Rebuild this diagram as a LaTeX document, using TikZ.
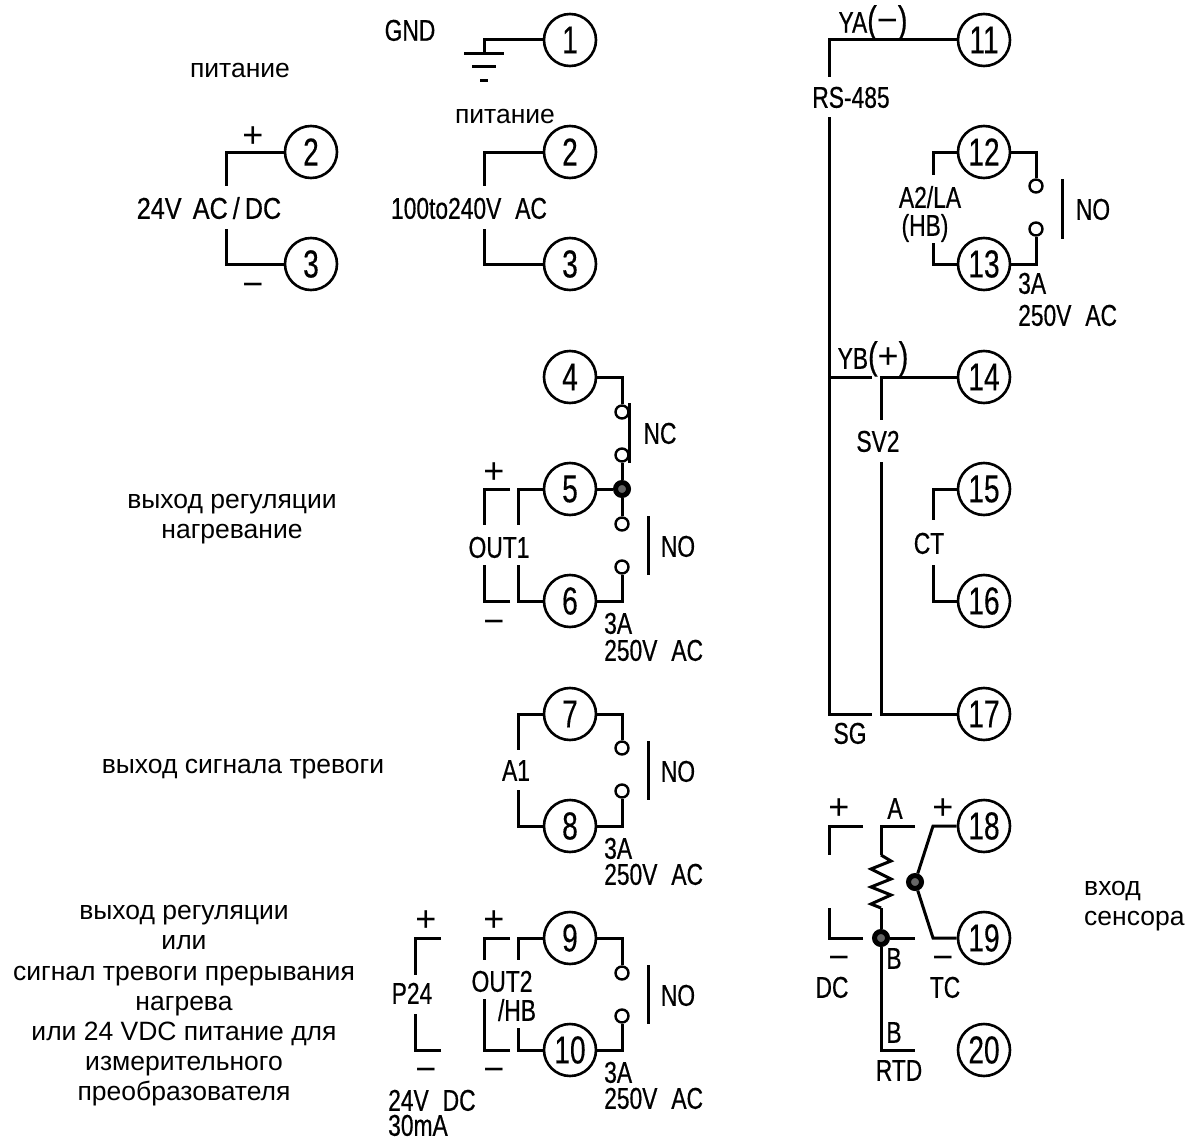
\documentclass[tikz,border=0pt]{standalone}
\usepackage{fontspec}
\setmainfont{Liberation Sans}
\newfontfamily\cadfont[FakeStretch=0.76,WordSpace=2.2,FakeBold=0.5]{Liberation Sans}
\newfontfamily\cadwide[FakeStretch=0.84,WordSpace=1.6,FakeBold=0.5]{Liberation Sans}
\newfontfamily\numfont[FakeStretch=0.72,FakeBold=0.3]{Liberation Sans}
\newcommand{\bigsign}[1]{{\normalfont\fontsize{36}{36}\selectfont #1}}
\newcommand{\bigparen}[1]{{\fontsize{38}{38}\selectfont #1}}
\tikzset{
    wire/.style={line width=3pt,line join=miter},
    term/.style={circle,draw,line width=2.6pt,minimum size=52pt,inner sep=0pt,fill=white,font=\numfont\fontsize{39}{39}\selectfont},
    cont/.style={circle,draw,line width=2.4pt,minimum size=13pt,inner sep=0pt,fill=white},
    junc/.style={circle,draw,line width=5pt,minimum size=13pt,inner sep=0pt,fill=black!60},
    cad/.style={inner sep=0pt,font=\cadfont\fontsize{30}{30}\selectfont,text height=21.5pt,text depth=0pt},
    cadw/.style={cad,font=\cadwide\fontsize{30}{30}\selectfont},
    sign/.style={inner sep=0pt,font=\fontsize{36}{36}\selectfont,text height=24pt,text depth=0pt},
    rus/.style={inner sep=0pt,align=center,font=\fontsize{26.5}{30.2}\selectfont}
}
\begin{document}
\begin{tikzpicture}[x=1pt,y=-1pt]
    \useasboundingbox (0,0) rectangle (1187,1140);
    \fill[white] (0,0) rectangle (1187,1140);
    % left column terminals
    \node[term] (t1) at (570,40){1};
    \node[term] (t2a) at (311,152){2};
    \node[term] (t3a) at (311,264){3};
    \node[term] (t2b) at (570,152){2};
    \node[term] (t3b) at (570,264){3};
    \node[term] (t4) at (570,377){4};
    \node[term] (t5) at (570,489){5};
    \node[term] (t6) at (570,601){6};
    \node[term] (t7) at (570,714){7};
    \node[term] (t8) at (570,826){8};
    \node[term] (t9) at (570,938){9};
    \node[term] (t10) at (570,1050){10};
    % right column terminals
    \node[term] (t11) at (984,40){11};
    \node[term] (t12) at (984,152){12};
    \node[term] (t13) at (984,264){13};
    \node[term] (t14) at (984,377){14};
    \node[term] (t15) at (984,489){15};
    \node[term] (t16) at (984,601){16};
    \node[term] (t17) at (984,714){17};
    \node[term] (t18) at (984,826){18};
    \node[term] (t19) at (984,938){19};
    \node[term] (t20) at (984,1050){20};
    % contacts and junctions
    \node[cont] (k4) at (622,412){};
    \node[cont] (k5a) at (622,455){};
    \node[cont] (k5b) at (622,524){};
    \node[cont] (k6) at (622,567){};
    \node[cont] (k7) at (622,748){};
    \node[cont] (k8) at (622,791){};
    \node[cont] (k9) at (622,973){};
    \node[cont] (k10) at (622,1016){};
    \node[cont] (k12) at (1036,186){};
    \node[cont] (k13) at (1036,229){};
    \node[junc] (j5) at (622,489){};
    \node[junc] (jtc) at (915,882){};
    \node[junc] (jrtd) at (881,938){};
    % wire ends
    \coordinate (gnd) at (484,54);
    \coordinate (ga1) at (464,54);
    \coordinate (ga2) at (504,54);
    \coordinate (gb1) at (472,67);
    \coordinate (gb2) at (496,67);
    \coordinate (gc1) at (480,81);
    \coordinate (gc2) at (488,81);
    \coordinate (w2a) at (226,186);
    \coordinate (w3a) at (226,229);
    \coordinate (w2b) at (484,186);
    \coordinate (w3b) at (484,229);
    \coordinate (w5) at (518,525);
    \coordinate (w6) at (518,565);
    \coordinate (o5a) at (510,489);
    \coordinate (o5b) at (484,525);
    \coordinate (o6a) at (510,601);
    \coordinate (o6b) at (484,565);
    \coordinate (w7) at (518,750);
    \coordinate (w8) at (518,790);
    \coordinate (w9) at (518,960);
    \coordinate (w10) at (518,1028);
    \coordinate (o9a) at (510,938);
    \coordinate (o9b) at (484,960);
    \coordinate (o10a) at (510,1050);
    \coordinate (o10b) at (484,999);
    \coordinate (p9a) at (441,938);
    \coordinate (p9b) at (415,975);
    \coordinate (p10a) at (441,1050);
    \coordinate (p10b) at (415,1014);
    \coordinate (w11) at (829,77);
    \coordinate (w11b) at (829,117);
    \coordinate (sg) at (872,714);
    \coordinate (sgc) at (829,714);
    \coordinate (yb) at (872,377);
    \coordinate (ybc) at (829,377);
    \coordinate (w14) at (881,420);
    \coordinate (w17) at (881,462);
    \coordinate (w12) at (933,175);
    \coordinate (w13) at (933,243);
    \coordinate (w15) at (933,520);
    \coordinate (w16) at (933,565);
    \coordinate (tca) at (933,826);
    \coordinate (tcb) at (933,938);
    \coordinate (aend) at (915,826);
    \coordinate (rtop) at (881,855);
    \coordinate (rbot) at (881,908);
    \coordinate (bend) at (915,938);
    \coordinate (rtd) at (915,1050);
    \coordinate (dca) at (863,826);
    \coordinate (dcb) at (829,855);
    \coordinate (dcc) at (863,938);
    \coordinate (dcd) at (829,908);
    % contact bars
    \coordinate (ncA) at (629,403);
    \coordinate (ncB) at (629,463);
    \coordinate (no5A) at (648,516);
    \coordinate (no5B) at (648,575);
    \coordinate (no7A) at (648,741);
    \coordinate (no7B) at (648,800);
    \coordinate (no9A) at (648,965);
    \coordinate (no9B) at (648,1024);
    \coordinate (no12A) at (1062,179);
    \coordinate (no12B) at (1062,239);
    % power
    \draw[wire] (t1) -| (gnd);
    \draw[wire] (ga1) -- (ga2);
    \draw[wire] (gb1) -- (gb2);
    \draw[wire] (gc1) -- (gc2);
    \draw[wire] (t2a) -| (w2a);
    \draw[wire] (t3a) -| (w3a);
    \draw[wire] (t2b) -| (w2b);
    \draw[wire] (t3b) -| (w3b);
    % out1
    \draw[wire] (t4) -| (k4);
    \draw[wire] (k5a) -- (j5);
    \draw[wire] (t5) -- (j5);
    \draw[wire] (j5) -- (k5b);
    \draw[wire] (t6) -| (k6);
    \draw[wire] (ncA) -- (ncB);
    \draw[wire] (no5A) -- (no5B);
    \draw[wire] (t5) -| (w5);
    \draw[wire] (t6) -| (w6);
    \draw[wire] (o5a) -| (o5b);
    \draw[wire] (o6a) -| (o6b);
    % a1
    \draw[wire] (t7) -| (k7);
    \draw[wire] (t8) -| (k8);
    \draw[wire] (no7A) -- (no7B);
    \draw[wire] (t7) -| (w7);
    \draw[wire] (t8) -| (w8);
    % out2
    \draw[wire] (t9) -| (k9);
    \draw[wire] (t10) -| (k10);
    \draw[wire] (no9A) -- (no9B);
    \draw[wire] (t9) -| (w9);
    \draw[wire] (t10) -| (w10);
    \draw[wire] (o9a) -| (o9b);
    \draw[wire] (o10a) -| (o10b);
    \draw[wire] (p9a) -| (p9b);
    \draw[wire] (p10a) -| (p10b);
    % rs-485 and sv2
    \draw[wire] (t11) -| (w11);
    \draw[wire] (w11b) -- (sgc) -- (sg);
    \draw[wire] (ybc) -- (yb);
    \draw[wire] (t14) -| (w14);
    \draw[wire] (t17) -| (w17);
    % a2
    \draw[wire] (t12) -| (k12);
    \draw[wire] (t13) -| (k13);
    \draw[wire] (no12A) -- (no12B);
    \draw[wire] (t12) -| (w12);
    \draw[wire] (t13) -| (w13);
    \draw[wire] (t15) -| (w15);
    \draw[wire] (t16) -| (w16);
    % sensor input
    \draw[wire] (t18) -- (tca) -- (jtc);
    \draw[wire] (t19) -- (tcb) -- (jtc);
    \draw[wire] (aend) -| (rtop);
    \draw[wire] (rtop) -- ++(10,6) -- ++(-20,8) -- ++(20,10) -- ++(-20,8) -- ++(20,8) -- ++(-20,9) -- (rbot);
    \draw[wire] (rbot) -- (jrtd);
    \draw[wire] (jrtd) -- (bend);
    \draw[wire] (jrtd) |- (rtd);
    \draw[wire] (dca) -| (dcb);
    \draw[wire] (dcc) -| (dcd);
    % labels
    \node[cad] (lgnd) at (410,30){GND};
    \node[rus] (lpow) at (240,70){питание};
    \node[rus,fill=white,inner xsep=1pt,inner ysep=4pt] (lpowb) at (505,116){питание};
    \node[cadw] (l24) at (209,208){24V AC\hspace{5pt}/\hspace{5pt}DC};
    \node[sign] (lp2) at (253,135){+};
    \node[sign] (lm3) at (253,284){−};
    \node[cad] (l100) at (469,208){100to240V AC};
    \node[cad] (lnc) at (660,433){NC};
    \node[cad] (lno5) at (678,546){NO};
    \node[cad] (lout1) at (499,547){OUT1};
    \node[sign] (lp5) at (494,471){+};
    \node[sign] (lm6) at (494,621){−};
    \node[cad,anchor=west] (l3a6) at (604,623){3A};
    \node[cad,anchor=west] (l250a) at (604,650){250V AC};
    \node[rus] (lout) at (232,519){выход регуляции\\нагревание};
    \node[cad] (lno7) at (678,771){NO};
    \node[cad] (la1) at (516,770){A1};
    \node[cad,anchor=west] (l3a8) at (604,848){3A};
    \node[cad,anchor=west] (l250b) at (604,874){250V AC};
    \node[rus] (lal) at (243,769){выход сигнала тревоги};
    \node[cad] (lno9) at (678,995){NO};
    \node[cad] (lout2) at (502,981){OUT2};
    \node[cad] (lhb) at (517,1010){/HB};
    \node[cad] (lp24) at (412,993){P24};
    \node[sign] (lp9a) at (426,919){+};
    \node[sign] (lm9a) at (426,1069){−};
    \node[sign] (lp9b) at (494,919){+};
    \node[sign] (lm9b) at (494,1069){−};
    \node[cad,anchor=west] (l24v) at (388,1100){24V DC};
    \node[cad,anchor=west] (l30) at (388,1125){30mA};
    \node[cad,anchor=west] (l3a10) at (604,1072){3A};
    \node[cad,anchor=west] (l250c) at (604,1098){250V AC};
    \node[rus] (lblock) at (184,1006){выход регуляции\\или\\сигнал тревоги прерывания\\нагрева\\или 24 VDC питание для\\измерительного\\преобразователя};
    \node[cad] (lya) at (873,22){YA\bigparen{(}\bigsign{−}\bigparen{)}};
    \node[cad] (lrs) at (851,97){RS-485};
    \node[cad] (la2) at (930,197){A2/LA};
    \node[cad] (lhb2) at (925,225){(HB)};
    \node[cad] (lno12) at (1093,209){NO};
    \node[cad,anchor=west] (l3a13) at (1018,283){3A};
    \node[cad,anchor=west] (l250d) at (1018,315){250V AC};
    \node[cad] (lyb) at (873,358){YB\bigparen{(}\bigsign{+}\bigparen{)}};
    \node[cad] (lsv) at (878,441){SV2};
    \node[cad] (lct) at (929,543){CT};
    \node[cad] (lsg) at (850,733){SG};
    \node[sign] (lp18a) at (839,807){+};
    \node[sign] (lm19a) at (839,957){−};
    \node[sign] (lp18b) at (943,807){+};
    \node[sign] (lm19b) at (943,957){−};
    \node[cad] (la) at (895,808){A};
    \node[cad] (lb1) at (894,958){B};
    \node[cad] (lb2) at (894,1032){B};
    \node[cad] (lrtd) at (899,1070){RTD};
    \node[cad] (ldc) at (832,987){DC};
    \node[cad] (ltc) at (945,987){TC};
    \node[rus,align=left,anchor=north west] (lsens) at (1084,881){вход\\сенсора};
\end{tikzpicture}
\end{document}
